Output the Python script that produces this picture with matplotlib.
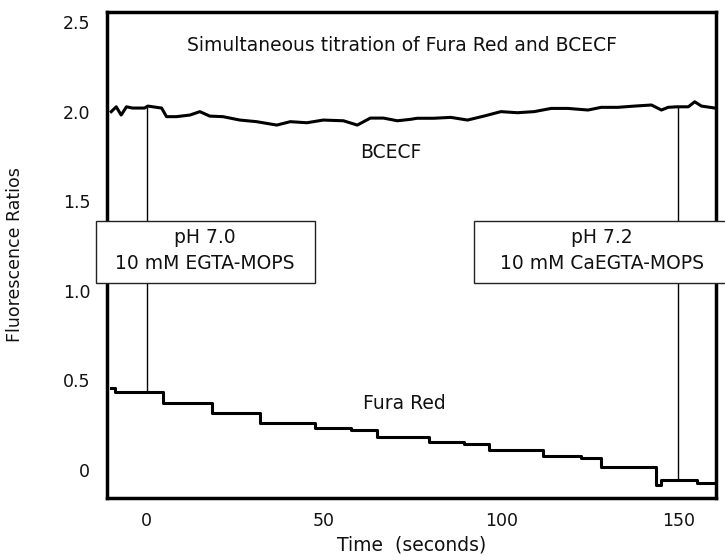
import matplotlib
matplotlib.use("Agg")
import matplotlib.pyplot as plt
from matplotlib.patches import Rectangle

# ---- data ----
bcecf_t = [-10.0, -8.6, -7.2, -5.7, -4.0, -0.6, 0.3, 4.2, 5.6, 8.4, 12.2, 15.0, 17.8,
           21.5, 26.3, 31.0, 36.7, 40.5, 45.2, 49.8, 55.5, 59.4, 63.1, 66.8, 70.7,
           74.4, 76.3, 80.9, 85.8, 90.5, 95.1, 99.9, 104.6, 109.3, 114.1, 118.8,
           124.5, 128.2, 132.9, 137.6, 142.4, 145.2, 147.1, 149.6, 152.8, 154.6,
           156.5, 161.0]
bcecf_v = [2.000, 2.027, 1.981, 2.027, 2.020, 2.020, 2.031, 2.020, 1.972, 1.972, 1.981,
           2.000, 1.975, 1.972, 1.953, 1.944, 1.925, 1.944, 1.938, 1.953, 1.949, 1.925,
           1.964, 1.964, 1.949, 1.957, 1.963, 1.963, 1.968, 1.953, 1.975, 2.000, 1.994,
           2.000, 2.018, 2.018, 2.009, 2.024, 2.024, 2.031, 2.037, 2.009, 2.024, 2.027,
           2.027, 2.055, 2.031, 2.018]

fura_t = [-10.0, -9.0, 4.6, 18.3, 32.0, 47.6, 57.5, 65.0, 79.6, 89.5, 96.6, 111.7,
          122.6, 128.2, 143.8, 145.2, 155.1, 161.0]
fura_v = [0.460, 0.437, 0.374, 0.318, 0.264, 0.233, 0.223, 0.186, 0.158, 0.145, 0.112,
          0.078, 0.065, 0.015, -0.084, -0.056, -0.074, -0.074]

marker_times = [0.0, 150.0]
marker_top = [2.020, 2.027]
marker_bottom = [0.437, -0.056]

x_ticks = [0, 50, 100, 150]
x_ticklabels = ["0", "50", "100", "150"]
y_ticks = [0, 0.5, 1.0, 1.5, 2.0, 2.5]
y_ticklabels = ["0", "0.5", "1.0", "1.5", "2.0", "2.5"]

title = "Simultaneous titration of Fura Red and BCECF"
box_texts = [("pH 7.0", "10 mM EGTA-MOPS"), ("pH 7.2", "10 mM CaEGTA-MOPS")]

# ---- figure ----
plt.rcParams['font.family'] = ['DejaVu Sans']
fig = plt.figure(figsize=(7.25, 5.57), dpi=100)
ax = fig.add_axes([107/725, 1-498/557, (716-107)/725, (498-12)/557])
ax.set_xlim(-11.2, 160.6)
ax.set_ylim(-0.156, 2.556)

ax.plot(bcecf_t, bcecf_v, color='black', lw=2.2, zorder=3)
ax.plot(fura_t, fura_v, color='black', lw=2.2, drawstyle='steps-post', zorder=3)

for t, top, bot in zip(marker_times, marker_top, marker_bottom):
    ax.plot([t, t], [bot, top], color='black', lw=1.0, zorder=2)

# annotation boxes
boxes = [(-14.4, 47.6), (92.3, 164.2)]
text_x = [16.3, 128.5]
fs = 13.5
for (x0, x1), tx, (l1, l2) in zip(boxes, text_x, box_texts):
    r = Rectangle((x0, 1.044), x1 - x0, 1.390 - 1.044, facecolor='white',
                  edgecolor='#222222', lw=1.0, zorder=4, clip_on=False)
    ax.add_patch(r)
    ax.text(tx, 1.295, l1, ha='center', va='center', fontsize=fs, zorder=5,
            clip_on=False, color='#111111')
    ax.text(tx, 1.155, l2, ha='center', va='center', fontsize=fs, zorder=5,
            clip_on=False, color='#111111')

ax.text(71.9, 2.37, title, ha='center', va='center', fontsize=fs, color='#111111')
ax.text(68.8, 1.77, "BCECF", ha='center', va='center', fontsize=fs, color='#111111')
ax.text(72.7, 0.374, "Fura Red", ha='center', va='center', fontsize=fs, color='#111111')

ax.set_xticks(x_ticks)
ax.set_xticklabels(x_ticklabels)
ax.set_yticks(y_ticks)
ax.set_yticklabels(y_ticklabels)
ax.tick_params(length=0, labelsize=12.5, colors='#111111')
ax.tick_params(axis='y', pad=12)
ax.tick_params(axis='x', pad=10)

ax.set_xlabel("Time  (seconds)", fontsize=13.5, color='#111111')
ax.xaxis.set_label_coords(0.5, -0.097)
ax.xaxis.label.set_va('center')
ax.set_ylabel("Fluorescence Ratios", fontsize=12.5, color='#111111')
ax.yaxis.set_label_coords(-0.151, 0.5)
ax.yaxis.label.set_va('center')

for s in ax.spines.values():
    s.set_linewidth(2.5)
    s.set_color('black')

fig.savefig("out.png", dpi=100)
